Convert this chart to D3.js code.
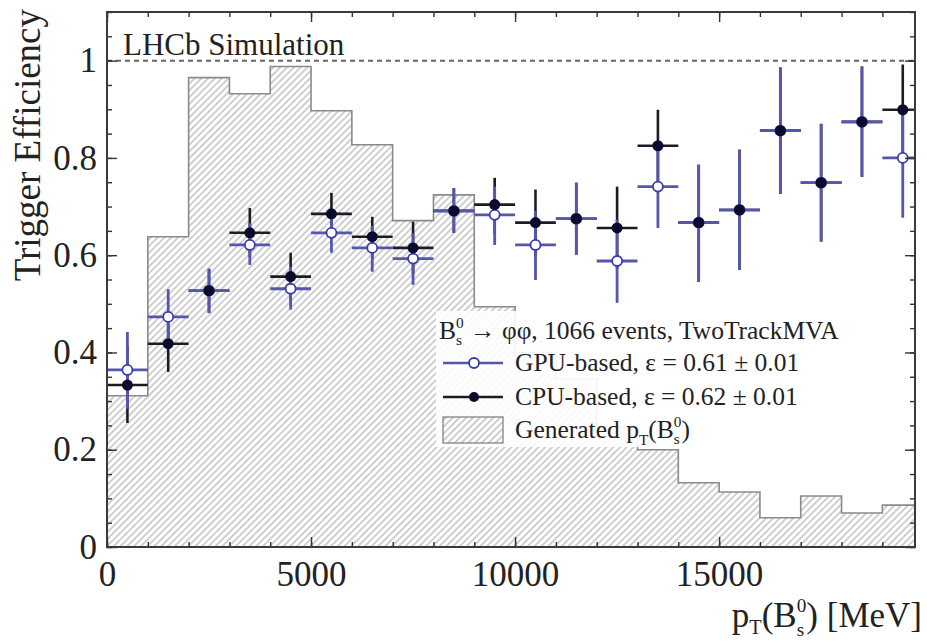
<!DOCTYPE html>
<html><head><meta charset="utf-8">
<script src="https://cdn.jsdelivr.net/npm/d3@7"></script>
<style>body{margin:0;background:#fff}text{font-family:"Liberation Serif","DejaVu Serif",serif;fill:#222}</style>
</head><body><svg id="c" width="927" height="643"></svg>
<script>
// ---- data ----
const binEdges = [0,1000,2000,3000,4000,5000,6000,7000,8000,9000,10000,11000,12000,13000,14000,15000,16000,17000,18000,19000,20000];
const binCenters = [500,1500,2500,3500,4500,5500,6500,7500,8500,9500,10500,11500,12500,13500,14500,15500,16500,17500,18500,19500];
const generated = [0.311,0.638,0.965,0.932,0.988,0.897,0.827,0.671,0.724,0.494,0.40,0.346,0.247,0.200,0.132,0.113,0.060,0.105,0.070,0.086];
const cpuEff  = [0.333,0.418,0.527,0.646,0.556,0.685,0.638,0.615,0.691,0.704,0.667,0.675,0.656,0.825,0.667,0.693,0.856,0.749,0.874,0.899];
const cpuUp   = [0.080,0.060,0.045,0.051,0.049,0.043,0.041,0.054,0.047,0.055,0.068,0.074,0.085,0.074,0.119,0.124,0.130,0.121,0.114,0.093];
const cpuDown = [0.078,0.058,0.046,0.050,0.050,0.045,0.045,0.054,0.045,0.060,0.070,0.074,0.085,0.080,0.122,0.123,0.130,0.121,0.113,0.100];
const gpuEff  = [0.364,0.473,0.527,0.621,0.531,0.646,0.615,0.593,0.691,0.683,0.621,0.675,0.588,0.741,0.667,0.693,0.856,0.749,0.874,0.800];
const gpuUp   = [0.078,0.057,0.045,0.045,0.045,0.045,0.045,0.052,0.047,0.058,0.070,0.074,0.085,0.080,0.119,0.124,0.130,0.121,0.114,0.110];
const gpuDown = [0.080,0.060,0.046,0.041,0.043,0.041,0.049,0.054,0.045,0.062,0.072,0.074,0.086,0.085,0.122,0.123,0.130,0.121,0.113,0.123];
const binHalfWidth = 500;
const xTicks = [0,5000,10000,15000];
const xTickLabels = ["0","5000","10000","15000"];
const yTicks = [0,0.2,0.4,0.6,0.8,1];
const yTickLabels = ["0","0.2","0.4","0.6","0.8","1"];
const legendTitle = "\u00a0\u2192 \u03c6\u03c6, 1066 events, TwoTrackMVA";
const gpuLabel = "GPU-based, \u03b5 = 0.61 \u00b1 0.01";
const cpuLabel = "CPU-based, \u03b5 = 0.62 \u00b1 0.01";

// ---- layout ----
const L = 107, R = 915, T = 12, B = 547;
const svg = d3.select('#c');
const x = d3.scaleLinear().domain([0,19800]).range([L,R]);
const y = d3.scaleLinear().domain([0,1.1]).range([B,T]);
const GPU_COL = '#5656b0', GPU_MK = '#3b3bab', CPU_COL = '#1c1c24', CPU_MK = '#0b0b2e';

const defs = svg.append('defs');
const pat = defs.append('pattern').attr('id','hatch').attr('patternUnits','userSpaceOnUse')
  .attr('width',4.8).attr('height',4.8).attr('patternTransform','rotate(45)');
pat.append('line').attr('x1',1).attr('y1',0).attr('x2',1).attr('y2',4.8)
  .attr('stroke','#b0b0b0').attr('stroke-width',1.2);
defs.append('clipPath').attr('id','frame').append('rect')
  .attr('x',L).attr('y',T).attr('width',R-L).attr('height',B-T);

// histogram
const pts = generated.map((v,i)=>({e:binEdges[i],v}));
pts.push({e:binEdges[20], v:generated[19]});
const plot = svg.append('g').attr('clip-path','url(#frame)');
plot.append('path').datum(pts)
  .attr('d', d3.area().curve(d3.curveStepAfter).x(d=>x(d.e)).y0(y(0)).y1(d=>y(d.v)))
  .attr('fill','url(#hatch)');
plot.append('path').datum([{e:0,v:0}].concat(pts))
  .attr('d', d3.line().curve(d3.curveStepAfter).x(d=>x(d.e)).y(d=>y(d.v)))
  .attr('fill','none').attr('stroke','#8a8a8a').attr('stroke-width',1.6);

// dashed line at 1
plot.append('line').attr('x1',L).attr('x2',R).attr('y1',y(1)).attr('y2',y(1))
  .attr('stroke','#666').attr('stroke-width',2).attr('stroke-dasharray','5,4');

// legend background (semi-transparent)
svg.append('rect').attr('x',436).attr('y',311).attr('width',414).attr('height',136)
  .attr('fill','#fff').attr('opacity',0.9);

// error bars
function drawSeries(vals, up, down, col, w){
  const g = plot.append('g').attr('stroke',col).attr('stroke-width',w);
  binCenters.forEach((c,i)=>{
    g.append('line').attr('x1',x(c)).attr('x2',x(c)).attr('y1',y(vals[i]+up[i])).attr('y2',y(vals[i]-down[i]));
    g.append('line').attr('x1',x(c-binHalfWidth)).attr('x2',x(c+binHalfWidth)).attr('y1',y(vals[i])).attr('y2',y(vals[i]));
  });
}
drawSeries(cpuEff, cpuUp, cpuDown, CPU_COL, 2.6);
drawSeries(gpuEff, gpuUp, gpuDown, GPU_COL, 2.8);
plot.append('g').selectAll('circle').data(gpuEff).join('circle')
  .attr('cx',(d,i)=>x(binCenters[i])).attr('cy',d=>y(d)).attr('r',5)
  .attr('fill','#fff').attr('stroke',GPU_MK).attr('stroke-width',1.8);
plot.append('g').selectAll('circle').data(cpuEff).join('circle')
  .attr('cx',(d,i)=>x(binCenters[i])).attr('cy',d=>y(d)).attr('r',5.5)
  .attr('fill',CPU_MK);

// axes
function styleAxis(g){ g.select('.domain').remove(); g.selectAll('line').attr('stroke','#333').attr('stroke-width',1.4);
  g.selectAll('text').attr('font-family','Liberation Serif').attr('font-size',35).attr('fill','#222'); }
const minorX = d3.range(0,19801,1000), minorY = d3.range(0,1.101,0.05);
svg.append('g').attr('transform',`translate(0,${B})`)
  .call(d3.axisBottom(x).tickValues(minorX).tickSize(-5).tickFormat('')).call(styleAxis);
svg.append('g').attr('transform',`translate(0,${B})`)
  .call(d3.axisBottom(x).tickValues(xTicks).tickSize(-10).tickPadding(14).tickFormat((d,i)=>xTickLabels[i])).call(styleAxis);
svg.append('g').attr('transform',`translate(0,${T})`)
  .call(d3.axisTop(x).tickValues(minorX).tickSize(-5).tickFormat('')).call(styleAxis);
svg.append('g').attr('transform',`translate(0,${T})`)
  .call(d3.axisTop(x).tickValues(xTicks).tickSize(-10).tickFormat('')).call(styleAxis);
svg.append('g').attr('transform',`translate(${L},0)`)
  .call(d3.axisLeft(y).tickValues(minorY).tickSize(-5).tickFormat('')).call(styleAxis);
svg.append('g').attr('transform',`translate(${L},0)`)
  .call(d3.axisLeft(y).tickValues(yTicks).tickSize(-10).tickPadding(10).tickFormat((d,i)=>yTickLabels[i])).call(styleAxis);
svg.append('g').attr('transform',`translate(${R},0)`)
  .call(d3.axisRight(y).tickValues(minorY).tickSize(-5).tickFormat('')).call(styleAxis);
svg.append('g').attr('transform',`translate(${R},0)`)
  .call(d3.axisRight(y).tickValues(yTicks).tickSize(-10).tickFormat('')).call(styleAxis);
svg.append('rect').attr('x',L).attr('y',T).attr('width',R-L).attr('height',B-T)
  .attr('fill','none').attr('stroke','#3a3a3a').attr('stroke-width',2);

// rich text helper: one <text>, positioned tspans
function rich(parent, x0, y0, parts, fs, anchor){
  const t = parent.append('text').attr('font-size',fs);
  let cx = 0, prevStart = 0;
  parts.forEach(p=>{
    const sx = p.stack ? prevStart : cx;
    const ts = t.append('tspan').attr('x',sx).attr('y',p.dy||0).attr('font-size',fs*(p.s||1)).text(p.t);
    const w = ts.node().getComputedTextLength();
    if(!p.stack) prevStart = sx;
    cx = Math.max(cx, sx+w);
  });
  const shift = anchor==='end' ? -cx : anchor==='middle' ? -cx/2 : 0;
  t.attr('transform',`translate(${x0+shift},${y0})`);
  return t;
}

// titles
svg.append('text').attr('transform','translate(40,9) rotate(-90)').attr('text-anchor','end')
  .attr('font-size',37).text('Trigger Efficiency');
svg.append('text').attr('x',123).attr('y',55).attr('font-size',31).text('LHCb Simulation');
rich(svg, 922, 627, [{t:'p'},{t:'T',s:0.58,dy:7},{t:'(B'},{t:'0',s:0.55,dy:-15},{t:'s',s:0.55,dy:9,stack:true},{t:') [MeV]'}], 35, 'end');

// legend
const lg = svg.append('g');
rich(lg, 439, 339, [{t:'B'},{t:'0',s:0.6,dy:-11},{t:'s',s:0.6,dy:6,stack:true},{t:legendTitle}], 25.5, 'start');
lg.append('line').attr('x1',443).attr('x2',503).attr('y1',363).attr('y2',363).attr('stroke',GPU_COL).attr('stroke-width',2.4);
lg.append('circle').attr('cx',474).attr('cy',363).attr('r',5).attr('fill','#fff').attr('stroke',GPU_MK).attr('stroke-width',1.8);
lg.append('text').attr('x',515).attr('y',371).attr('font-size',25.5).text(gpuLabel);
lg.append('line').attr('x1',443).attr('x2',503).attr('y1',397).attr('y2',397).attr('stroke',CPU_COL).attr('stroke-width',2.4);
lg.append('circle').attr('cx',474).attr('cy',397).attr('r',5).attr('fill',CPU_MK);
lg.append('text').attr('x',515).attr('y',405).attr('font-size',25.5).text(cpuLabel);
lg.append('rect').attr('x',443).attr('y',417).attr('width',60).attr('height',26)
  .attr('fill','url(#hatch)').attr('stroke','#8a8a8a').attr('stroke-width',1.4);
rich(lg, 515, 438, [{t:'Generated p'},{t:'T',s:0.6,dy:7},{t:'(B'},{t:'0',s:0.6,dy:-11},{t:'s',s:0.6,dy:6,stack:true},{t:')'}], 25.5, 'start');
</script></body></html>
